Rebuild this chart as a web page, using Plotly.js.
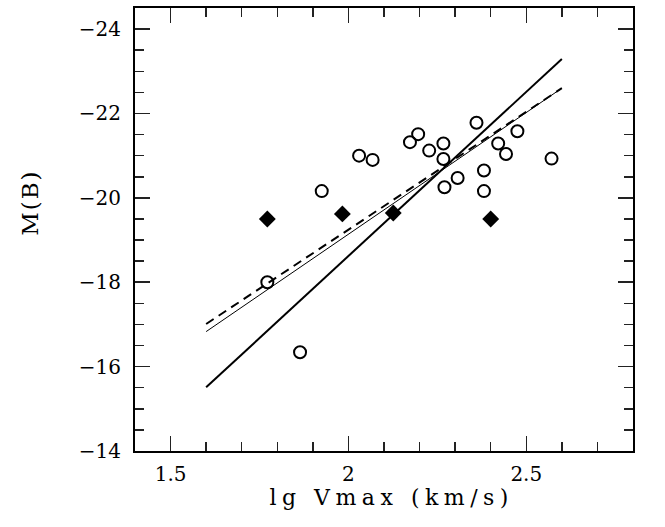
<!DOCTYPE html>
<html>
<head>
<meta charset="utf-8">
<script src="https://cdn.plot.ly/plotly-3.0.1.min.js"></script>
<style>
  body { margin: 0; padding: 0; background: #fff; }
  #chart { width: 665px; height: 527px; }
  .annotation[data-index="0"] .annotation-text { letter-spacing: 5.5px; }
  .annotation[data-index="1"] .annotation-text { letter-spacing: 2px; }
</style>
</head>
<body>
<div id="chart"></div>
<script>
// Open circles
var circleX = [1.772, 1.864, 1.925, 2.030, 2.068, 2.173, 2.196, 2.227, 2.267, 2.267, 2.270, 2.307, 2.360, 2.381, 2.381, 2.421, 2.443, 2.475, 2.571];
var circleY = [-18.00, -16.34, -20.16, -21.00, -20.90, -21.32, -21.51, -21.12, -21.29, -20.92, -20.25, -20.47, -21.78, -20.65, -20.16, -21.29, -21.04, -21.58, -20.93];
// Filled diamonds
var diamondX = [1.772, 1.983, 2.126, 2.400];
var diamondY = [-19.50, -19.62, -19.64, -19.50];
// Fit lines (end points)
var fitX = [1.6, 2.6];
var thickFitY = [-15.51, -23.29];
var thinFitY = [-16.83, -22.60];
var dashFitY = [-17.01, -22.60];
// Axis ticks and titles
var xTickVals = [1.5, 2, 2.5];
var xTickText = ['1.5', '2', '2.5'];
var yTickVals = [-24, -22, -20, -18, -16, -14];
var yTickText = ['\u221224', '\u221222', '\u221220', '\u221218', '\u221216', '\u221214'];
var xTitle = 'lg Vmax (km/s)';
var yTitle = 'M(B)';

var traces = [
  { x: fitX, y: thickFitY, mode: 'lines', line: { color: '#000', width: 2 }, hoverinfo: 'skip', showlegend: false },
  { x: fitX, y: thinFitY, mode: 'lines', line: { color: '#000', width: 1 }, hoverinfo: 'skip', showlegend: false },
  { x: fitX, y: dashFitY, mode: 'lines', line: { color: '#000', width: 2, dash: '9px,6px' }, hoverinfo: 'skip', showlegend: false },
  { x: circleX, y: circleY, mode: 'markers', marker: { symbol: 'circle-open', size: 12, color: '#000', line: { width: 2, color: '#000' } }, showlegend: false },
  { x: diamondX, y: diamondY, mode: 'markers', marker: { symbol: 'diamond', size: 13, color: '#000' }, showlegend: false }
];

var tickFont = { family: 'DejaVu Serif, serif', size: 20, color: '#000' };
var layout = {
  width: 665, height: 527,
  margin: { l: 135, r: 32, t: 8, b: 76 },
  paper_bgcolor: '#fff', plot_bgcolor: '#fff',
  showlegend: false,
  xaxis: {
    range: [1.4, 2.8],
    tickvals: xTickVals, ticktext: xTickText,
    ticks: 'inside', ticklen: 15, tickwidth: 1.5, tickcolor: '#222',
    ticklabelstandoff: 4,
    minor: { dtick: 0.1, tick0: 1.4, ticks: 'inside', ticklen: 9, tickwidth: 1.5, tickcolor: '#222' },
    showline: true, linecolor: '#000', linewidth: 2, mirror: 'allticks',
    showgrid: false, zeroline: false,
    tickfont: tickFont
  },
  yaxis: {
    range: [-14, -24.5],
    tickvals: yTickVals, ticktext: yTickText,
    ticks: 'inside', ticklen: 15, tickwidth: 1.5, tickcolor: '#222',
    ticklabelstandoff: 8,
    minor: { dtick: 0.5, tick0: -14, ticks: 'inside', ticklen: 9, tickwidth: 1.5, tickcolor: '#222' },
    showline: true, linecolor: '#000', linewidth: 2, mirror: 'allticks',
    showgrid: false, zeroline: false,
    tickfont: tickFont
  },
  annotations: [
    { text: xTitle, xref: 'paper', yref: 'paper', x: 0.515, y: -0.106, xanchor: 'center', yanchor: 'middle', showarrow: false,
      font: { family: 'DejaVu Serif, serif', size: 22, color: '#000' } },
    { text: yTitle, xref: 'paper', yref: 'paper', x: -0.211, y: 0.56, xanchor: 'center', yanchor: 'middle', textangle: -90, showarrow: false,
      font: { family: 'DejaVu Serif, serif', size: 23, color: '#000' } }
  ]
};

Plotly.newPlot('chart', traces, layout, { displayModeBar: false, staticPlot: true });
</script>
</body>
</html>
